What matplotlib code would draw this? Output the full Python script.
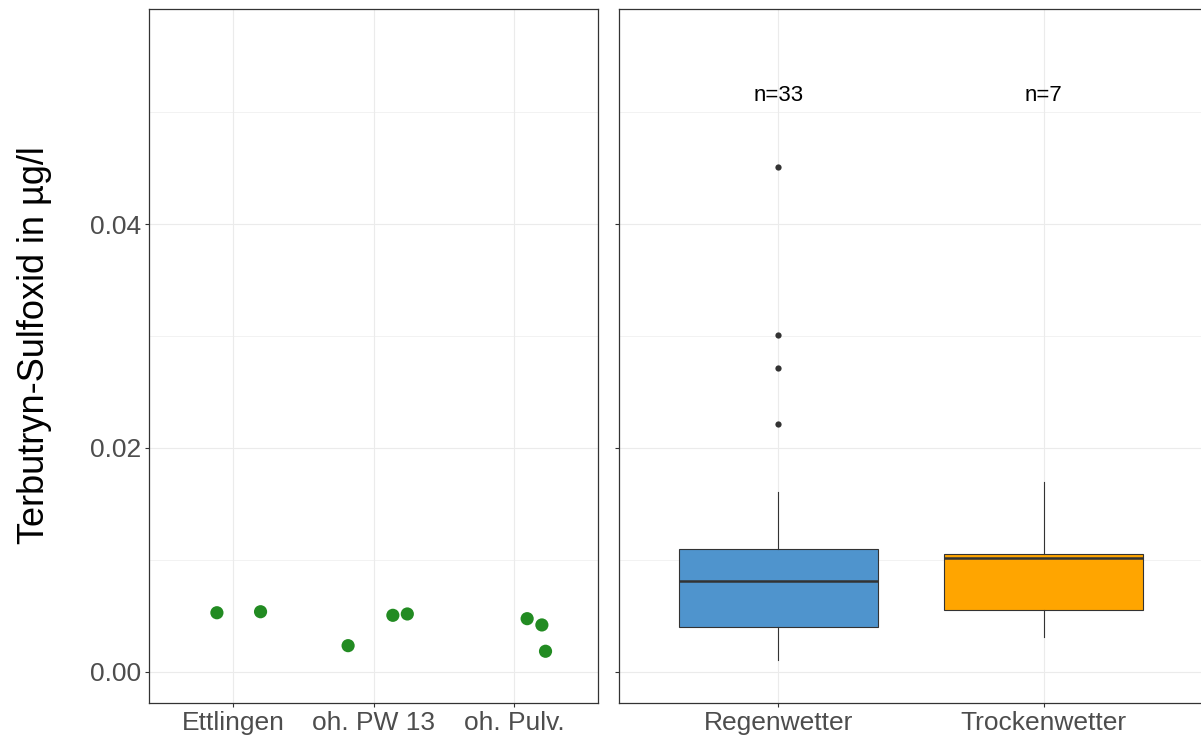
import matplotlib
matplotlib.use("Agg")
import matplotlib.pyplot as plt
import numpy as np

plt.rcParams["font.family"] = ["Liberation Sans", "DejaVu Sans"]

# left panel: single samples per site (jittered around the category)
sites = ["Ettlingen", "oh. PW 13", "oh. Pulv."]
site_idx = [1, 1, 2, 2, 2, 3, 3, 3]
site_jitter = [-0.116, 0.195, -0.181, 0.138, 0.241, 0.095, 0.200, 0.226]
site_values = [0.00529, 0.00538, 0.00235, 0.00506, 0.00518, 0.00476, 0.00420, 0.00185]

# right panel: box statistics per weather condition
weather = ["Regenwetter", "Trockenwetter"]
q1 = [0.0040, 0.0055]
med = [0.0081, 0.0102]
q3 = [0.0110, 0.0105]
whislo = [0.0011, 0.0031]
whishi = [0.0161, 0.0170]
outliers = [[0.0221, 0.0271, 0.0301, 0.0451], []]
counts = [33, 7]
box_colors = ["#4F94CD", "#FFA500"]

Y_LIM = (-0.00277, 0.0592)
GRID = "#EBEBEB"
DARK = "#333333"
TICK_TXT = "#4D4D4D"

W, H = 1201, 741
fig = plt.figure(figsize=(W / 100, H / 100), dpi=100)
ax_l = fig.add_axes([149 / W, 38 / H, 449 / W, 694 / H])
ax_r = fig.add_axes([619 / W, 38 / H, 584 / W, 694 / H])


def style_panel(ax, n_cat, labels):
    ax.set_xlim(0.4, n_cat + 0.6)
    ax.set_ylim(*Y_LIM)
    ax.set_xticks(np.arange(1, n_cat + 1))
    ax.set_xticklabels(labels)
    ax.set_yticks([0.0, 0.02, 0.04])
    ax.set_yticks([0.01, 0.03, 0.05], minor=True)
    ax.tick_params(axis="both", which="major", length=3, width=0.8, color=DARK,
                   labelsize=19, labelcolor=TICK_TXT, pad=2.5)
    ax.tick_params(axis="y", which="minor", length=0)
    ax.grid(True, which="major", color=GRID, linewidth=0.8)
    ax.grid(True, which="minor", axis="y", color=GRID, linewidth=0.45)
    ax.set_axisbelow(True)
    for sp in ax.spines.values():
        sp.set_color(DARK)
        sp.set_linewidth(0.9)


style_panel(ax_l, len(sites), sites)
ax_l.set_yticklabels(["0.00", "0.02", "0.04"])

xs = np.array(site_idx) + np.array(site_jitter)
ax_l.scatter(xs, site_values, s=90, color="#228B22", edgecolors="none", zorder=3)

style_panel(ax_r, len(weather), weather)
ax_r.set_yticklabels([])

stats = []
for i in range(len(weather)):
    stats.append({"q1": q1[i], "med": med[i], "q3": q3[i],
                  "whislo": whislo[i], "whishi": whishi[i],
                  "fliers": outliers[i], "label": weather[i]})

bp = ax_r.bxp(stats, positions=[1, 2], widths=0.75, patch_artist=True,
              showcaps=False, manage_ticks=False,
              boxprops=dict(edgecolor=DARK, linewidth=0.8),
              whiskerprops=dict(color=DARK, linewidth=0.8),
              medianprops=dict(color=DARK, linewidth=1.8),
              flierprops=dict(marker="o", markersize=4.5, markerfacecolor=DARK,
                              markeredgecolor="none"))
for patch, c in zip(bp["boxes"], box_colors):
    patch.set_facecolor(c)
    patch.set_zorder(2)

for i, n in enumerate(counts):
    ax_r.text(i + 1, 0.0515, f"n={n}", ha="center", va="center",
              fontsize=16, color="black")

fig.text(35 / W, 1 - 345 / H, "Terbutryn-Sulfoxid in µg/l", rotation=90,
         ha="center", va="center", fontsize=26, color="black")

fig.savefig("out.png", dpi=100)
